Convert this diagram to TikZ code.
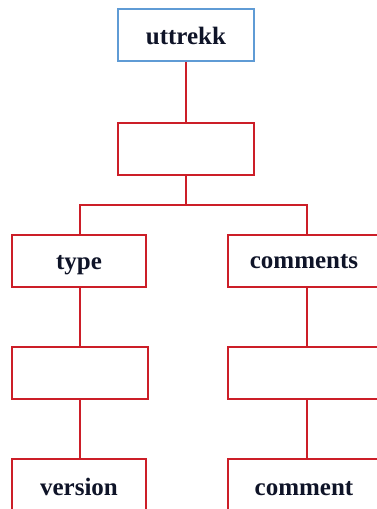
\documentclass[tikz,border=0pt]{standalone}
\usepackage{fontspec}
\setmainfont{Liberation Serif}
\definecolor{boxred}{RGB}{204,30,40}
\definecolor{boxblue}{RGB}{95,155,213}
\definecolor{txt}{RGB}{15,20,40}
\begin{document}
\begin{tikzpicture}[x=1pt,y=-1pt,
  lbl/.style={font=\fontsize{25}{28}\selectfont\bfseries,text=txt,inner sep=0pt,anchor=base},
  box/.style={draw=boxred,line width=1.7pt,rectangle,minimum height=52pt,inner sep=0pt},
  link/.style={draw=boxred,line width=1.7pt}]
\clip (0,0) rectangle (377,509);
\fill[white] (0,0) rectangle (377,509);
\node[box,draw=boxblue,minimum width=136pt] (top) at (186,35) {};
\node[lbl] (toplabel) at (186,44) {uttrekk};
\node[box,minimum width=136pt] (mid) at (186,149) {};
\node[box,minimum width=134pt] (type) at (79,261) {};
\node[lbl] (typelabel) at (79,269) {type};
\node[box,minimum width=158pt] (comments) at (307,261) {};
\node[lbl] (commentslabel) at (304,268) {comments};
\node[box,minimum width=136pt] (e1) at (80,373) {};
\node[box,minimum width=158pt] (e2) at (307,373) {};
\node[box,minimum width=134pt] (version) at (79,485) {};
\node[lbl] (versionlabel) at (79,495) {version};
\node[box,minimum width=158pt] (comment) at (307,485) {};
\node[lbl] (commentlabel) at (304,495) {comment};
\coordinate (fork) at (186,205);
\draw[link] (top.south) -- (mid.north);
\draw[link] (mid.south) -- (fork);
\draw[link] (type.north -| e1.north) |- (fork) -| (comments.north);
\draw[link] (type.south -| e1.north) -- (e1.north);
\draw[link] (e1.south) -- (version.north -| e1.south);
\draw[link] (comments.south) -- (e2.north);
\draw[link] (e2.south) -- (comment.north);
\end{tikzpicture}
\end{document}
